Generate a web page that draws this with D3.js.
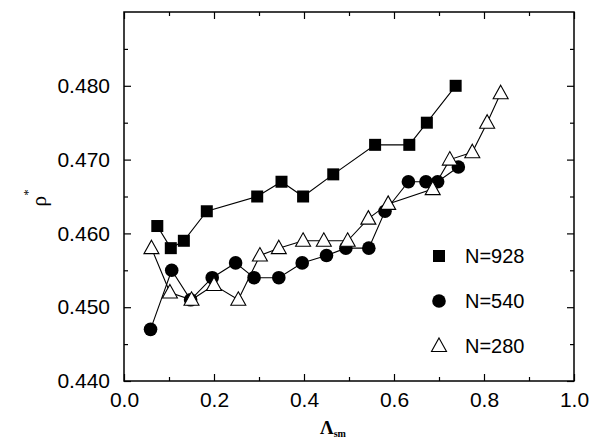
<!DOCTYPE html>
<html>
<head>
<meta charset="utf-8">
<script src="https://cdnjs.cloudflare.com/ajax/libs/d3/7.8.5/d3.min.js"></script>
<style>
    html, body { margin: 0; padding: 0; background: #fff; }
    svg { display: block; font-family: "Liberation Sans", Arial, sans-serif; }
</style>
</head>
<body>
<div id="chart"></div>
<script>
(function () {
    'use strict';

    // N=928 (filled squares)
    var x928 = [0.074, 0.104, 0.133, 0.184, 0.296, 0.350, 0.398, 0.465, 0.558, 0.634, 0.673, 0.737];
    var y928 = [0.461, 0.458, 0.459, 0.463, 0.465, 0.467, 0.465, 0.468, 0.472, 0.472, 0.475, 0.480];

    // N=540 (filled circles)
    var x540 = [0.059, 0.106, 0.148, 0.196, 0.248, 0.289, 0.344, 0.396, 0.450, 0.493, 0.544, 0.580, 0.632, 0.671, 0.697, 0.743];
    var y540 = [0.447, 0.455, 0.451, 0.454, 0.456, 0.454, 0.454, 0.456, 0.457, 0.458, 0.458, 0.463, 0.467, 0.467, 0.467, 0.469];

    // N=280 (open triangles)
    var x280 = [0.061, 0.102, 0.150, 0.200, 0.254, 0.302, 0.344, 0.398, 0.444, 0.497, 0.543, 0.587, 0.686, 0.724, 0.774, 0.807, 0.837];
    var y280 = [0.458, 0.452, 0.451, 0.453, 0.451, 0.457, 0.458, 0.459, 0.459, 0.459, 0.462, 0.464, 0.466, 0.470, 0.471, 0.475, 0.479];

    var seriesNames = ['N=928', 'N=540', 'N=280'];
    var xTicks = [0.0, 0.2, 0.4, 0.6, 0.8, 1.0];
    var yTicks = [0.440, 0.450, 0.460, 0.470, 0.480];

    var W = 590, H = 439;
    var frame = { l: 124, t: 12, r: 574, b: 381 };

    var svg = d3.select('#chart').append('svg')
        .attr('width', W)
        .attr('height', H);

    var x = d3.scaleLinear().domain([0, 1]).range([frame.l, frame.r]);
    var y = d3.scaleLinear().domain([0.44, 0.49]).range([frame.b, frame.t]);

    var series = [
        { name: seriesNames[0], xs: x928, ys: y928, shape: 'square' },
        { name: seriesNames[1], xs: x540, ys: y540, shape: 'circle' },
        { name: seriesNames[2], xs: x280, ys: y280, shape: 'triangle' }
    ];

    // minor ticks every 0.1 / 0.005
    var xMinor = d3.range(0.1, 1.0, 0.2);
    var yMinor = d3.range(0.445, 0.49, 0.01);

    function drawAxis(axis, g) {
        g.call(axis);
        g.select('.domain').remove();
        g.selectAll('.tick line').attr('stroke', '#000').attr('stroke-width', 1.2);
        g.selectAll('.tick text').attr('fill', '#000').style('font-size', '21px');
    }

    drawAxis(d3.axisBottom(x).tickValues(xTicks).tickFormat(d3.format('.1f')).tickSizeInner(-7).tickPadding(11),
        svg.append('g').attr('transform', 'translate(0,' + frame.b + ')'));
    drawAxis(d3.axisBottom(x).tickValues(xMinor).tickFormat('').tickSizeInner(-4),
        svg.append('g').attr('transform', 'translate(0,' + frame.b + ')'));
    drawAxis(d3.axisTop(x).tickValues(xTicks).tickFormat('').tickSizeInner(-7),
        svg.append('g').attr('transform', 'translate(0,' + frame.t + ')'));
    drawAxis(d3.axisTop(x).tickValues(xMinor).tickFormat('').tickSizeInner(-4),
        svg.append('g').attr('transform', 'translate(0,' + frame.t + ')'));

    drawAxis(d3.axisLeft(y).tickValues(yTicks).tickFormat(d3.format('.3f')).tickSizeInner(-7).tickPadding(14),
        svg.append('g').attr('transform', 'translate(' + frame.l + ',0)'));
    drawAxis(d3.axisLeft(y).tickValues(yMinor).tickFormat('').tickSizeInner(-4),
        svg.append('g').attr('transform', 'translate(' + frame.l + ',0)'));
    drawAxis(d3.axisRight(y).tickValues(yTicks).tickFormat('').tickSizeInner(-7),
        svg.append('g').attr('transform', 'translate(' + frame.r + ',0)'));
    drawAxis(d3.axisRight(y).tickValues(yMinor).tickFormat('').tickSizeInner(-4),
        svg.append('g').attr('transform', 'translate(' + frame.r + ',0)'));

    svg.append('rect')
        .attr('x', frame.l)
        .attr('y', frame.t)
        .attr('width', frame.r - frame.l)
        .attr('height', frame.b - frame.t)
        .attr('fill', 'none')
        .attr('stroke', '#000')
        .attr('stroke-width', 1.5);

    function drawMarker(g, shape, cx, cy) {
        if (shape === 'square') {
            g.append('rect')
                .attr('x', cx - 6).attr('y', cy - 6)
                .attr('width', 12).attr('height', 12)
                .attr('fill', '#000');
        } else if (shape === 'circle') {
            g.append('circle')
                .attr('cx', cx).attr('cy', cy).attr('r', 6.8)
                .attr('fill', '#000');
        } else {
            g.append('path')
                .attr('d', 'M' + cx + ',' + (cy - 8) + 'L' + (cx + 7.5) + ',' + (cy + 5.5) +
                    'L' + (cx - 7.5) + ',' + (cy + 5.5) + 'Z')
                .attr('fill', '#fff')
                .attr('stroke', '#000')
                .attr('stroke-width', 1.1);
        }
    }

    var line = d3.line()
        .x(function (d) { return x(d[0]); })
        .y(function (d) { return y(d[1]); });

    series.forEach(function (s) {
        var pts = d3.zip(s.xs, s.ys);
        var g = svg.append('g');
        g.append('path')
            .attr('d', line(pts))
            .attr('fill', 'none')
            .attr('stroke', '#000')
            .attr('stroke-width', 1.1);
        pts.forEach(function (p) {
            drawMarker(g, s.shape, x(p[0]), y(p[1]));
        });
    });

    // legend
    var legend = svg.append('g');
    series.forEach(function (s, i) {
        var ly = 256 + i * 45;
        drawMarker(legend, s.shape, 439, ly);
        legend.append('text')
            .attr('x', 465)
            .attr('y', ly + 7)
            .style('font-size', '20px')
            .text(s.name);
    });

    // axis titles
    svg.append('text')
        .attr('transform', 'translate(46,198) rotate(-90)')
        .attr('text-anchor', 'middle')
        .style('font-family', '"Liberation Serif", serif')
        .style('font-size', '22px')
        .html('ρ<tspan dy="-14" font-size="13">*</tspan>');

    svg.append('text')
        .attr('x', 333)
        .attr('y', 434)
        .attr('text-anchor', 'middle')
        .style('font-family', '"Liberation Serif", serif')
        .style('font-weight', 'bold')
        .style('font-size', '19px')
        .html('Λ<tspan dy="3" font-size="10">sm</tspan>');
}());
</script>
</body>
</html>
